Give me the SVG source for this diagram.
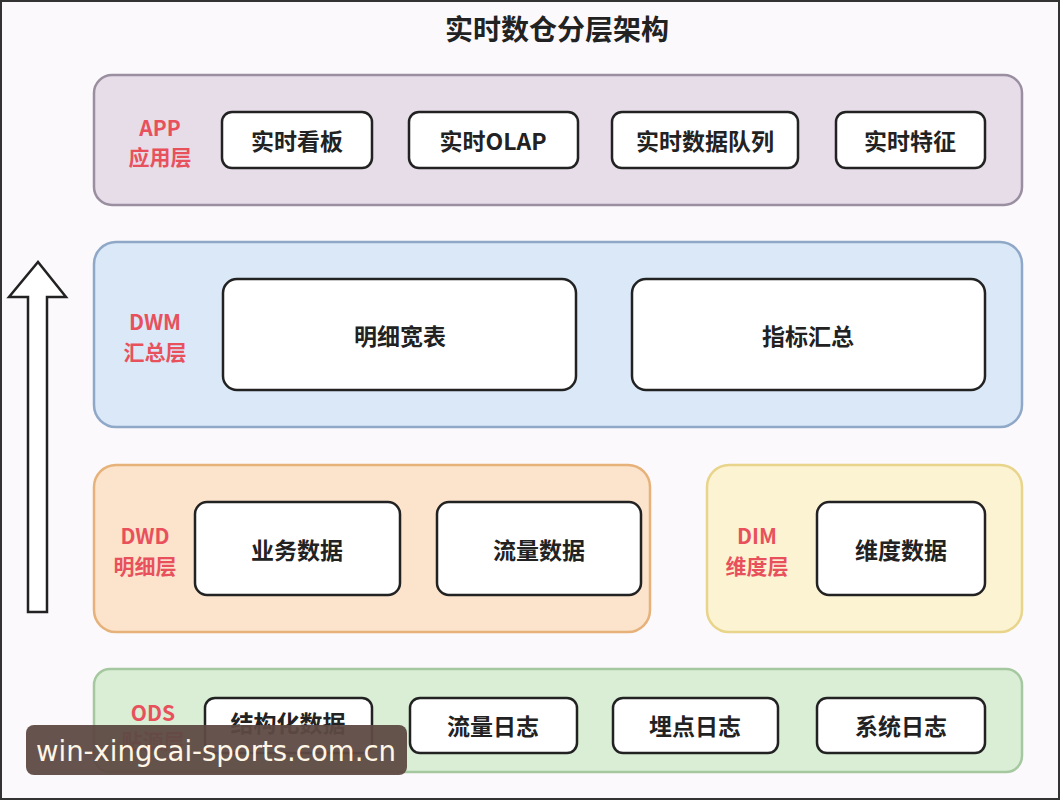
<svg xmlns="http://www.w3.org/2000/svg" width="1060" height="800" viewBox="0 0 1060 800">
<style>
text{font-family:"Noto Sans CJK SC","Liberation Sans",sans-serif;text-anchor:middle;dominant-baseline:central}
.n rect{fill:#fff;stroke:#222;stroke-width:2.5}
.n text{font-size:23px;fill:#222;font-weight:bold}
.lab{font-size:21px;fill:#e8515c;font-weight:bold}
.layer{stroke-width:2.5}
</style>
<rect x="1" y="1" width="1058" height="798" fill="#fbf9fb" stroke="#333" stroke-width="2"/>
<text x="557" y="28" font-size="28" font-weight="bold" fill="#222">实时数仓分层架构</text>
<g id="connectors">
<path d="M28 612 V297 H9 L38 262 L66 297 H47 V612 Z" fill="#fff" stroke="#222" stroke-width="2.5"/>
</g>
<g id="app">
<rect class="layer" x="94" y="75" width="928" height="130" rx="18" fill="#e6dde8" stroke="#9a8fa0"/>
<text class="lab" x="160" y="127">APP</text><text class="lab" x="160" y="156">应用层</text>
</g>
<g id="app1" class="n"><rect x="222" y="112" width="150" height="56" rx="10"/><text x="297" y="140">实时看板</text></g>
<g id="app2" class="n"><rect x="409" y="112" width="169" height="56" rx="10"/><text x="493" y="140">实时OLAP</text></g>
<g id="app3" class="n"><rect x="612" y="112" width="186" height="56" rx="10"/><text x="705" y="140">实时数据队列</text></g>
<g id="app4" class="n"><rect x="836" y="112" width="149" height="56" rx="10"/><text x="910" y="140">实时特征</text></g>
<g id="dwm">
<rect class="layer" x="94" y="242" width="928" height="185" rx="22" fill="#dae8f8" stroke="#8fa8c8"/>
<text class="lab" x="155" y="321">DWM</text><text class="lab" x="155" y="351">汇总层</text>
</g>
<g id="dwm1" class="n"><rect x="223" y="279" width="353" height="111" rx="14"/><text x="400" y="335">明细宽表</text></g>
<g id="dwm2" class="n"><rect x="632" y="279" width="353" height="111" rx="14"/><text x="808" y="335">指标汇总</text></g>
<g id="dwd">
<rect class="layer" x="94" y="465" width="556" height="167" rx="22" fill="#fbe3cc" stroke="#e6b27a"/>
<text class="lab" x="145" y="535">DWD</text><text class="lab" x="145" y="565">明细层</text>
</g>
<g id="dwd1" class="n"><rect x="195" y="502" width="205" height="93" rx="12"/><text x="297" y="549">业务数据</text></g>
<g id="dwd2" class="n"><rect x="437" y="502" width="204" height="93" rx="12"/><text x="539" y="549">流量数据</text></g>
<g id="dim">
<rect class="layer" x="707" y="465" width="315" height="167" rx="22" fill="#fcf3d3" stroke="#e8d48a"/>
<text class="lab" x="757" y="535">DIM</text><text class="lab" x="757" y="565">维度层</text>
</g>
<g id="dim1" class="n"><rect x="817" y="502" width="168" height="93" rx="12"/><text x="901" y="549">维度数据</text></g>
<g id="ods">
<rect class="layer" x="94" y="669" width="928" height="103" rx="16" fill="#d9eed5" stroke="#a6c8a0"/>
<text class="lab" x="153" y="712">ODS</text><text class="lab" x="153" y="740">贴源层</text>
</g>
<g id="ods1" class="n"><rect x="205" y="698" width="167" height="55" rx="10"/><text x="288" y="722">结构化数据</text></g>
<g id="ods2" class="n"><rect x="410" y="698" width="167" height="55" rx="10"/><text x="493" y="725">流量日志</text></g>
<g id="ods3" class="n"><rect x="613" y="698" width="165" height="55" rx="10"/><text x="695" y="725">埋点日志</text></g>
<g id="ods4" class="n"><rect x="817" y="698" width="168" height="55" rx="10"/><text x="901" y="725">系统日志</text></g>
<g id="watermark">
<rect x="26" y="725" width="381" height="50" rx="8" fill="#5e4a43" fill-opacity="0.95"/>
<text x="216" y="751" font-size="28" fill="#fff6e6" textLength="360" lengthAdjust="spacingAndGlyphs" style="font-family:'DejaVu Sans',sans-serif">win-xingcai-sports.com.cn</text>
</g>
</svg>
